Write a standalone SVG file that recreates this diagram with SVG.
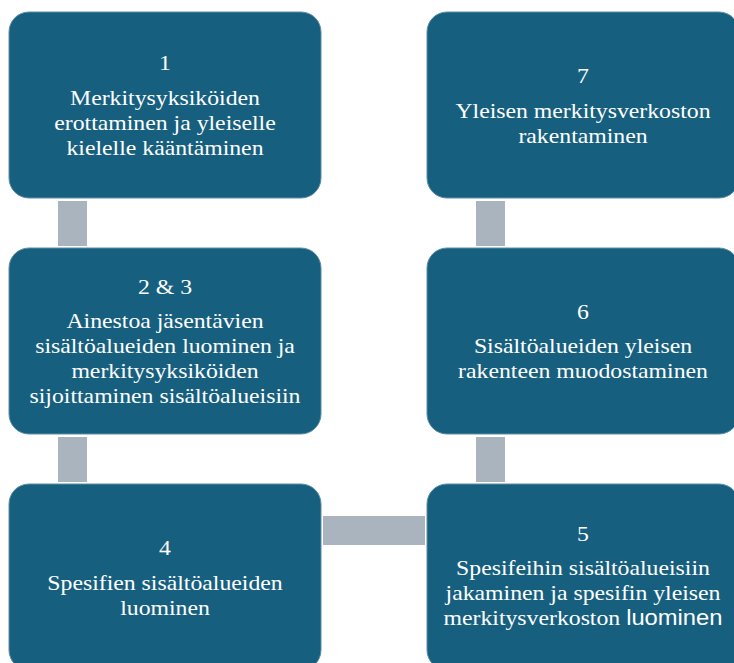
<svg xmlns="http://www.w3.org/2000/svg" width="734" height="663" viewBox="0 0 734 663">
<style>
.box{fill:#175f7f;stroke:#5d8ea6;stroke-width:1}
.con{fill:#a9b4bf}
.t{font-family:"Liberation Serif","Times New Roman",serif;font-size:22px;fill:#ffffff;text-anchor:middle}
.sans{font-family:"Liberation Sans",Arial,sans-serif}
</style>
<rect width="734" height="663" fill="#ffffff"/>
<g id="connectors">
<rect class="con" x="58" y="201" width="29" height="45"/>
<rect class="con" x="58" y="437" width="29" height="45"/>
<rect class="con" x="323" y="516" width="102" height="29"/>
<rect class="con" x="476" y="437" width="29" height="45"/>
<rect class="con" x="476" y="201" width="29" height="45"/>
</g>
<g id="node1">
<rect class="box" x="9" y="12" width="312" height="186" rx="20"/>
<text class="t" transform="translate(165,0) scale(1.08,1)"><tspan x="0" y="70">1</tspan><tspan x="0" y="105">Merkitysyksiköiden</tspan><tspan x="0" y="130">erottaminen ja yleiselle</tspan><tspan x="0" y="155">kielelle kääntäminen</tspan></text>
</g>
<g id="node23">
<rect class="box" x="9" y="248" width="312" height="186" rx="20"/>
<text class="t" transform="translate(165,0) scale(1.08,1)"><tspan x="0" y="294">2 &amp; 3</tspan><tspan x="0" y="328">Ainestoa jäsentävien</tspan><tspan x="0" y="353">sisältöalueiden luominen ja</tspan><tspan x="0" y="378">merkitysyksiköiden</tspan><tspan x="0" y="403">sijoittaminen sisältöalueisiin</tspan></text>
</g>
<g id="node4">
<rect class="box" x="9" y="484" width="312" height="186" rx="20"/>
<text class="t" transform="translate(165,0) scale(1.08,1)"><tspan x="0" y="555">4</tspan><tspan x="0" y="590">Spesifien sisältöalueiden</tspan><tspan x="0" y="615">luominen</tspan></text>
</g>
<g id="node5">
<rect class="box" x="427" y="484" width="312" height="186" rx="20"/>
<text class="t" transform="translate(583,0) scale(1.08,1)"><tspan x="0" y="541">5</tspan><tspan x="0" y="575">Spesifeihin sisältöalueisiin</tspan><tspan x="0" y="600">jakaminen ja spesifin yleisen</tspan><tspan x="0" y="625">merkitysverkoston <tspan class="sans">luominen</tspan></tspan></text>
</g>
<g id="node6">
<rect class="box" x="427" y="248" width="312" height="186" rx="20"/>
<text class="t" transform="translate(583,0) scale(1.08,1)"><tspan x="0" y="319">6</tspan><tspan x="0" y="353">Sisältöalueiden yleisen</tspan><tspan x="0" y="378">rakenteen muodostaminen</tspan></text>
</g>
<g id="node7">
<rect class="box" x="427" y="12" width="312" height="186" rx="20"/>
<text class="t" transform="translate(583,0) scale(1.08,1)"><tspan x="0" y="83">7</tspan><tspan x="0" y="118">Yleisen merkitysverkoston</tspan><tspan x="0" y="143">rakentaminen</tspan></text>
</g>
</svg>
